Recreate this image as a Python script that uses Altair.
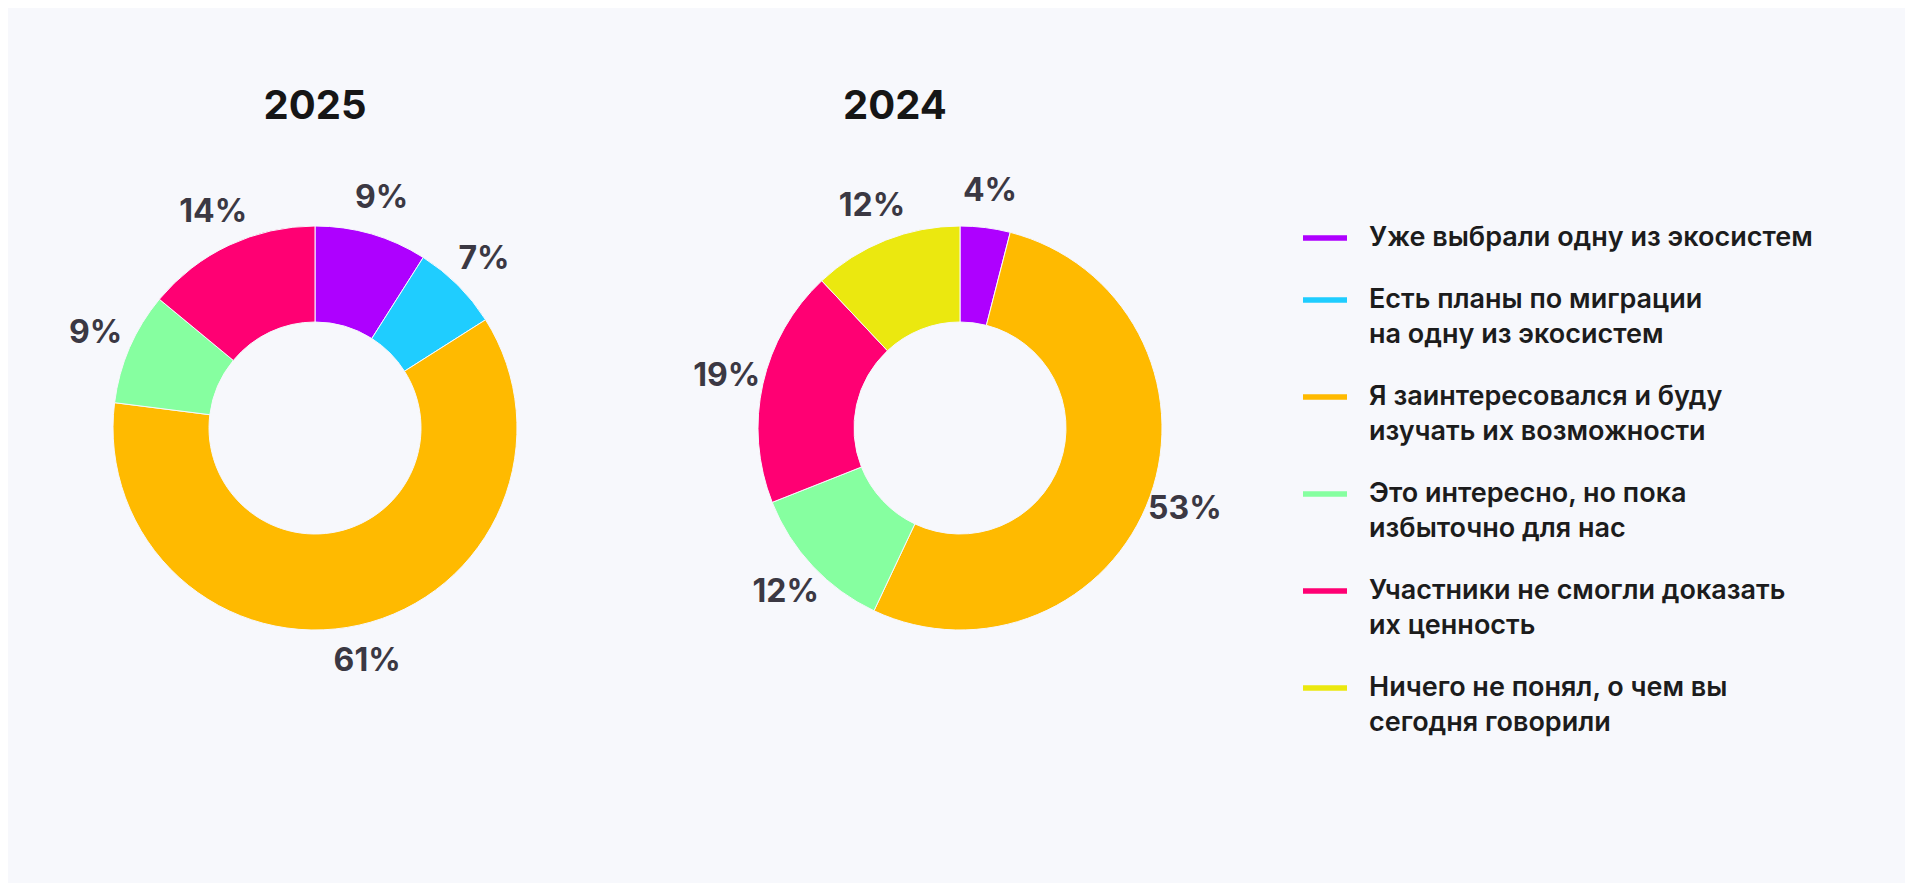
import altair as alt
import pandas as pd

# ---- data ----
categories = [
    "Уже выбрали одну из экосистем",
    "Есть планы по миграции\nна одну из экосистем",
    "Я заинтересовался и буду\nизучать их возможности",
    "Это интересно, но пока\nизбыточно для нас",
    "Участники не смогли доказать\nих ценность",
    "Ничего не понял, о чем вы\nсегодня говорили",
]
colors = ["#AE00FF", "#1FCDFF", "#FFBA00", "#86FFA0", "#FF0073", "#EBE80F"]
years = ["2025", "2024"]
values_2025 = [9, 7, 61, 9, 14, 0]
values_2024 = [4, 0, 53, 12, 19, 12]

rows = []
for yr, vals in zip(years, [values_2025, values_2024]):
    for i, (c, v) in enumerate(zip(categories, vals)):
        rows.append({"year": yr, "cat": c, "order": i, "value": v})
df = pd.DataFrame(rows)

BG = "#F7F8FC"
FONT = "Inter"

color_scale = alt.Scale(domain=categories, range=colors)
theta_scale = alt.Scale(domain=[0, 100], range=[0, 6.283185307179586])

legend = alt.Legend(
    title=None,
    orient="none",
    legendX=1295,
    legendY=58,
    symbolType="M-1,-0.125H1V0.125H-1Z",
    symbolSize=1936,
    symbolStrokeWidth=0,
    labelFont=FONT,
    labelFontSize=27,
    labelFontWeight=600,
    labelColor="#1C1C1C",
    labelLimit=700,
    labelOffset=22,
    rowPadding=27,
    labelExpr="split(datum.label, '\\n')",
)


def donut(year, title_dx):
    base = (
        alt.Chart(df)
        .transform_filter(alt.datum.year == year)
        .transform_filter(alt.datum.value > 0)
        .transform_stack(
            stack="value",
            groupby=["year"],
            sort=[alt.SortField("order", order="ascending")],
            as_=["v0", "v1"],
        )
        .transform_calculate(
            mid="(datum.v0 + datum.v1) / 2",
            label="datum.value + '%'",
        )
    )
    arcs = base.mark_arc(
        outerRadius=202, innerRadius=106, stroke=BG, strokeWidth=1
    ).encode(
        theta=alt.Theta("v0:Q", scale=theta_scale),
        theta2="v1:Q",
        color=alt.Color("cat:N", scale=color_scale, legend=legend),
    )
    labels = base.mark_text(
        radius=239, font=FONT, fontSize=32, fontWeight="bold", color="#3B3843"
    ).encode(
        theta=alt.Theta("mid:Q", scale=theta_scale),
        text="label:N",
    )
    return (arcs + labels).properties(
        width=614,
        height=540,
        title=alt.Title(
            year, font=FONT, fontSize=40, fontWeight="bold", color="#161616",
            anchor="middle", offset=31, dx=title_dx,
        ),
    )


chart = (
    alt.hconcat(donut("2025", 0), donut("2024", -65), spacing=31)
    .properties(padding={"top": 79, "left": 0, "right": 92, "bottom": 168}, background=BG)
    .configure_view(stroke=None)
    .configure(style={"guide-label": {"lineHeight": 35}})
)

chart.save("out.html", embed_options={"renderer": "svg", "actions": False})
